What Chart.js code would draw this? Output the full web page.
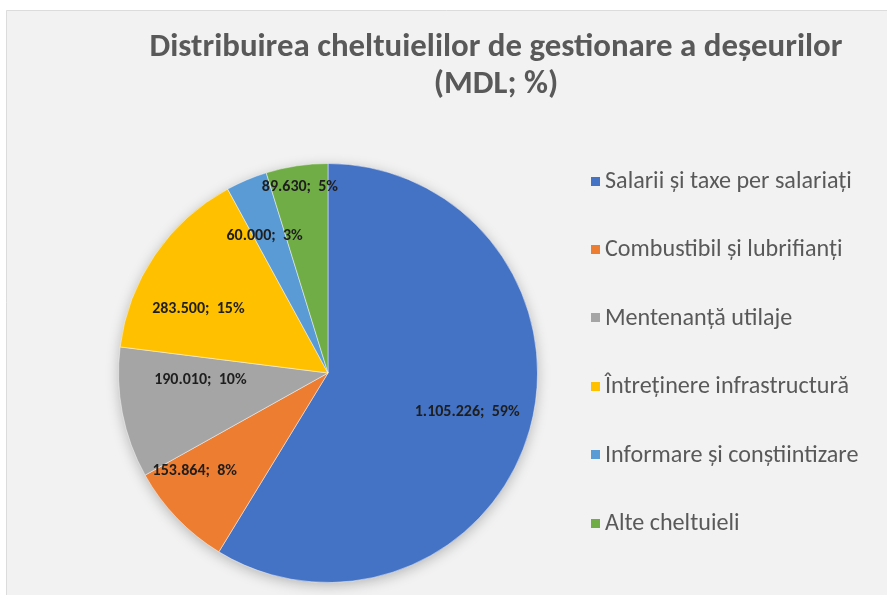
<!DOCTYPE html>
<html>
<head>
<meta charset="utf-8">
<script src="https://cdn.jsdelivr.net/npm/chart.js@4/dist/chart.umd.min.js"></script>
<style>
  html, body { margin: 0; padding: 0; background: #ffffff; }
  #wrap { position: relative; width: 887px; height: 595px; }
  canvas { display: block; }
</style>
</head>
<body>
<div id="wrap"><canvas id="c" width="887" height="595"></canvas></div>
<script>
const titleLines = ['Distribuirea cheltuielilor de gestionare a deșeurilor', '(MDL; %)'];
const categories = [
  'Salarii și taxe per salariați',
  'Combustibil și lubrifianți',
  'Mentenanță utilaje',
  'Întreținere infrastructură',
  'Informare și conștiintizare',
  'Alte cheltuieli'
];
const valuesMDL = [1105226, 153864, 190010, 283500, 60000, 89630];
const sliceColors = ['#4472C4', '#ED7D31', '#A5A5A5', '#FFC000', '#5B9BD5', '#70AD47'];

// label placement: angle shift (deg) from slice middle, radial fraction
const labelAngleShift = [0, 7.5, 8, -8, -2, 0];
const labelRadius = [0.69, 0.79, 0.61, 0.69, 0.72, 0.90];

const FONT = "Carlito, Calibri, Lato, 'Open Sans', sans-serif";

function fmtThousands(v) {
  return String(v).replace(/\B(?=(\d{3})+(?!\d))/g, '.');
}

const bgPlugin = {
  id: 'bg',
  beforeDraw(chart) {
    const ctx = chart.ctx;
    ctx.save();
    ctx.fillStyle = '#ffffff';
    ctx.fillRect(0, 0, chart.width, chart.height);
    ctx.fillStyle = '#f2f2f2';
    ctx.fillRect(6, 10, chart.width - 6, chart.height - 10);
    ctx.strokeStyle = '#dcdcdc';
    ctx.lineWidth = 1;
    ctx.beginPath();
    ctx.moveTo(6.5, chart.height);
    ctx.lineTo(6.5, 10.5);
    ctx.lineTo(chart.width, 10.5);
    ctx.stroke();
    ctx.restore();
  }
};

const titlePlugin = {
  id: 'wideTitle',
  afterDraw(chart) {
    const ctx = chart.ctx;
    ctx.save();
    ctx.font = "bold 28px " + FONT;
    const w = ctx.measureText(titleLines[0]).width;
    const size = 28 * 693 / w;
    ctx.font = "bold " + size.toFixed(2) + "px " + FONT;
    ctx.fillStyle = '#595959';
    ctx.textAlign = 'center';
    ctx.textBaseline = 'middle';
    ctx.fillText(titleLines[0], 496, 48);
    ctx.fillText(titleLines[1], 496, 85);
    ctx.restore();
  }
};

const shadowPlugin = {
  id: 'pieShadow',
  beforeDatasetsDraw(chart) {
    const arc = chart.getDatasetMeta(0).data[0];
    if (!arc) return;
    const ctx = chart.ctx;
    ctx.save();
    ctx.shadowColor = 'rgba(0,0,0,0.28)';
    ctx.shadowBlur = 14;
    ctx.shadowOffsetX = 0;
    ctx.shadowOffsetY = 3;
    ctx.fillStyle = '#f2f2f2';
    ctx.beginPath();
    ctx.arc(arc.x, arc.y, arc.outerRadius - 1, 0, Math.PI * 2);
    ctx.fill();
    ctx.restore();
  }
};

const labelPlugin = {
  id: 'sliceLabels',
  afterDatasetsDraw(chart) {
    const meta = chart.getDatasetMeta(0);
    const data = chart.data.datasets[0].data;
    const total = data.reduce((a, b) => a + b, 0);
    const ctx = chart.ctx;
    ctx.save();
    ctx.font = "bold 16px " + FONT;
    ctx.fillStyle = '#1e1e1e';
    ctx.textAlign = 'center';
    ctx.textBaseline = 'middle';
    meta.data.forEach((arc, i) => {
      const mid = (arc.startAngle + arc.endAngle) / 2 + labelAngleShift[i] * Math.PI / 180;
      const r = arc.outerRadius * labelRadius[i];
      const x = arc.x + Math.cos(mid) * r;
      const y = arc.y + Math.sin(mid) * r;
      const pct = Math.round(data[i] / total * 100);
      ctx.fillText(fmtThousands(data[i]) + ';  ' + pct + '%', x, y);
    });
    ctx.restore();
  }
};

const legendPlugin = {
  id: 'sideLegend',
  afterDraw(chart) {
    const ctx = chart.ctx;
    const labels = chart.data.labels;
    const colors = chart.data.datasets[0].backgroundColor;
    const x0 = 591, y0 = 181, step = 68.4, box = 9;
    ctx.save();
    ctx.font = "20px " + FONT;
    const w = ctx.measureText(labels[0]).width;
    const size = 20 * 247 / w;
    ctx.font = size.toFixed(2) + "px " + FONT;
    ctx.textBaseline = 'middle';
    ctx.textAlign = 'left';
    labels.forEach((lab, i) => {
      const y = y0 + i * step;
      ctx.fillStyle = colors[i];
      ctx.fillRect(x0, Math.round(y - box / 2), box, box);
      ctx.fillStyle = '#595959';
      ctx.fillText(lab, x0 + 14, y + 1);
    });
    ctx.restore();
  }
};

new Chart(document.getElementById('c'), {
  type: 'pie',
  data: {
    labels: categories,
    datasets: [{
      data: valuesMDL,
      backgroundColor: sliceColors,
      borderColor: 'rgba(255,255,255,0.45)',
      borderWidth: 1
    }]
  },
  options: {
    responsive: false,
    animation: false,
    devicePixelRatio: 1,
    layout: { padding: { left: 118, right: 349, top: 163, bottom: 12 } },
    plugins: {
      legend: { display: false },
      tooltip: { enabled: false },
      title: { display: false }
    }
  },
  plugins: [bgPlugin, shadowPlugin, labelPlugin, legendPlugin, titlePlugin]
});
</script>
</body>
</html>
